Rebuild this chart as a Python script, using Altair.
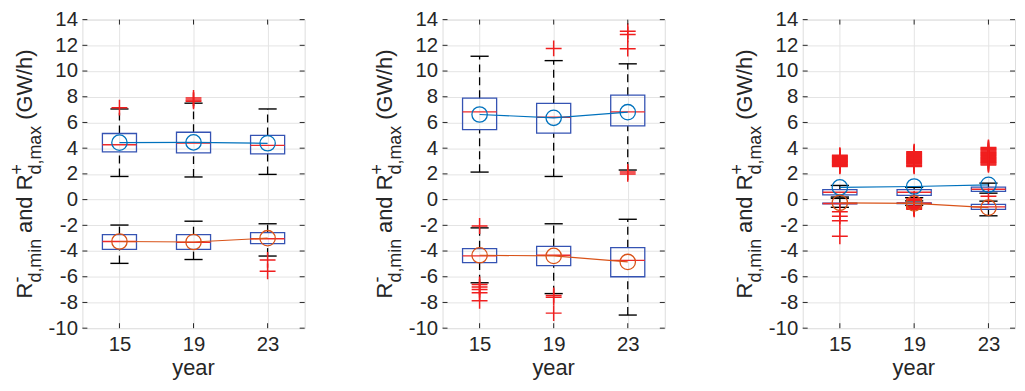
import altair as alt
import pandas as pd

YEARS = [15, 19, 23]

# Box statistics, one list per panel (left, middle, right), values for years 15, 19, 23
# upper boxes (R+_d,max)
POS_Q1 = [[3.72, 3.64, 3.56], [5.45, 5.17, 5.73], [0.36, 0.33, 0.64]]
POS_MED = [[4.27, 4.40, 4.22], [6.82, 6.41, 6.82], [0.57, 0.57, 0.80]]
POS_Q3 = [[5.14, 5.24, 5.00], [7.89, 7.48, 8.12], [0.77, 0.77, 0.97]]
POS_LO = [[1.80, 1.76, 1.96], [2.14, 1.80, 2.30], [0.20, 0.15, 0.50]]
POS_HI = [[7.05, 7.50, 7.05], [11.15, 10.81, 10.56], [1.10, 0.95, 1.28]]
POS_MEAN = [[4.43, 4.45, 4.38], [6.62, 6.36, 6.80], [0.95, 1.02, 1.15]]
POS_OUT = [
    [[7.15], [7.65, 7.75, 7.9], []],
    [[], [11.76], [2.0, 2.15, 11.74, 12.85, 13.1]],
    [
        [2.58, 2.63, 2.7, 2.74, 2.8, 2.87, 2.92, 2.98, 3.03, 3.1, 3.15, 3.22, 3.27, 3.33, 3.4, 3.45],
        [2.58, 2.64, 2.7, 2.77, 2.83, 2.9, 2.96, 3.03, 3.1, 3.16, 3.22, 3.3, 3.36, 3.43, 3.5, 3.57, 3.64, 3.72],
        [0.26, 2.7, 2.77, 2.84, 2.9, 2.97, 3.04, 3.1, 3.17, 3.24, 3.3, 3.37, 3.44, 3.5, 3.57, 3.64, 3.7,
         3.78, 3.85, 3.92, 4.0, 4.05],
    ],
]
# lower boxes (R-_d,min)
NEG_Q1 = [[-3.87, -3.87, -3.43], [-4.91, -5.14, -6.00], [-0.33, -0.32, -0.76]]
NEG_MED = [[-3.26, -3.33, -3.05], [-4.38, -4.33, -4.73], [-0.30, -0.28, -0.57]]
NEG_Q3 = [[-2.72, -2.72, -2.57], [-3.82, -3.64, -3.74], [-0.27, -0.25, -0.37]]
NEG_LO = [[-4.96, -4.66, -4.39], [-6.47, -7.31, -8.98], [-0.60, -0.45, -1.26]]
NEG_HI = [[-1.98, -1.68, -1.88], [-2.20, -1.88, -1.53], [0.10, -0.10, -0.12]]
NEG_MEAN = [[-3.26, -3.30, -3.00], [-4.33, -4.38, -4.85], [-0.25, -0.30, -0.63]]
NEG_OUT = [
    [[], [], [-4.69, -5.58]],
    [[-2.05, -6.6, -6.8, -7.0, -7.24, -7.87], [-7.45, -7.6, -8.83], []],
    [[-0.95, -1.3, -1.65, -2.85], [0.05, 0.0, -0.05, -0.5, -0.55, -0.6, -0.65, -0.7, -0.75], []],
]

Y_TICKS = list(range(-10, 15, 2))
X_DOMAINS = [[13, 25], [13, 25], [13, 24.43]]
WIDTHS = [224, 224, 214]

FONT = "Liberation Sans"
AX = "#262626"
BOX_BLUE = "#3553B3"
MED_RED = "#EE2A2A"
OUT_RED = "#F01E1E"
MEAN_BLUE = "#0072BD"
MEAN_ORANGE = "#D95319"
H = 311
BOX_HALF = 0.92
CAP_HALF = 0.49

yscale = alt.Scale(domain=[-10, 14], nice=False, zero=False)
xaxis = alt.Axis(values=YEARS, grid=True, gridColor="#E4E4E4", gridWidth=1, ticks=False, tickSize=0,
                 domain=False, labelFont=FONT, labelFontSize=20.5, labelColor=AX, labelPadding=7,
                 title=None)
yaxis = alt.Axis(values=Y_TICKS, grid=True, gridColor="#E4E4E4", gridWidth=1, ticks=False, tickSize=0,
                 domain=False, labelFont=FONT, labelFontSize=20.5, labelColor=AX, labelPadding=5,
                 labelBaseline="middle", labelExpr="'' + datum.value", title=None)


def Y(f):
    return alt.Y(f, type="quantitative", scale=yscale, axis=yaxis)


def panel(i):
    W = WIDTHS[i]
    xscale = alt.Scale(domain=X_DOMAINS[i], nice=False, zero=False)

    def X(f):
        return alt.X(f, type="quantitative", scale=xscale, axis=xaxis)

    rows = []
    outs = []
    for series, q1, med, q3, lo, hi, mean, out in [
        ("pos", POS_Q1, POS_MED, POS_Q3, POS_LO, POS_HI, POS_MEAN, POS_OUT),
        ("neg", NEG_Q1, NEG_MED, NEG_Q3, NEG_LO, NEG_HI, NEG_MEAN, NEG_OUT),
    ]:
        for j, yr in enumerate(YEARS):
            rows.append(dict(series=series, year=yr, q1=q1[i][j], med=med[i][j], q3=q3[i][j],
                             lo=lo[i][j], hi=hi[i][j], mean=mean[i][j],
                             xl=yr - BOX_HALF, xr=yr + BOX_HALF, cl=yr - CAP_HALF, cr=yr + CAP_HALF))
            for v in out[i][j]:
                outs.append(dict(series=series, year=yr, v=v))
    df = pd.DataFrame(rows)
    odf = pd.DataFrame(outs) if outs else pd.DataFrame({"series": [], "year": [], "v": []})
    base = alt.Chart(df)

    wh_up = base.mark_rule(color="black", strokeWidth=1.3, strokeDash=[8, 5]).encode(
        x=X("year"), y=Y("q3"), y2="hi")
    wh_dn = base.mark_rule(color="black", strokeWidth=1.3, strokeDash=[8, 5]).encode(
        x=X("year"), y=Y("lo"), y2="q1")
    cap_hi = base.mark_rule(color="black", strokeWidth=1.4).encode(x=X("cl"), x2="cr", y=Y("hi"))
    cap_lo = base.mark_rule(color="black", strokeWidth=1.4).encode(x=X("cl"), x2="cr", y=Y("lo"))
    box = base.mark_rect(fillOpacity=0, stroke=BOX_BLUE, strokeWidth=1.3).encode(
        x=X("xl"), x2="xr", y=Y("q1"), y2="q3")
    med = base.mark_rule(color=MED_RED, strokeWidth=1.4).encode(x=X("xl"), x2="xr", y=Y("med"))
    outl = alt.Chart(odf).mark_point(shape="M-1,0L1,0M0,-1L0,1", filled=False, color=OUT_RED,
                                     strokeWidth=1.5, size=256, opacity=1).encode(
        x=X("year"), y=Y("v"))
    cscale = alt.Scale(domain=["pos", "neg"], range=[MEAN_BLUE, MEAN_ORANGE])
    mline = base.mark_line(strokeWidth=1.2).encode(
        x=X("year"), y=Y("mean"), color=alt.Color("series:N", scale=cscale, legend=None))
    mpt = base.mark_point(shape="circle", filled=False, size=240, strokeWidth=1.3, opacity=1).encode(
        x=X("year"), y=Y("mean"), color=alt.Color("series:N", scale=cscale, legend=None))

    ytk = alt.Chart(pd.DataFrame({"t": Y_TICKS}))
    xtk = alt.Chart(pd.DataFrame({"t": YEARS}))
    tl = ytk.mark_rule(color=AX, strokeWidth=1).encode(y=Y("t"), x=alt.value(0), x2=alt.value(5))
    tr = ytk.mark_rule(color=AX, strokeWidth=1).encode(y=Y("t"), x=alt.value(W - 5), x2=alt.value(W))
    tb = xtk.mark_rule(color=AX, strokeWidth=1).encode(x=X("t"), y=alt.value(H - 5), y2=alt.value(H))
    tt = xtk.mark_rule(color=AX, strokeWidth=1).encode(x=X("t"), y=alt.value(0), y2=alt.value(5))

    def txt(s, x, y, fs, angle=270, align="left"):
        return alt.Chart(pd.DataFrame({"s": [s]})).mark_text(
            font=FONT, fontSize=fs, color=AX, angle=angle, align=align, baseline="alphabetic"
        ).encode(text="s:N", x=alt.value(x), y=alt.value(y))

    titles = [
        txt("R", -51, 281, 22),
        txt("-", -60, 265, 18),
        txt("d,min", -42, 265, 18),
        txt("and", -51, 215, 22),
        txt("R", -51, 172, 22),
        txt("+", -60, 156, 18),
        txt("d,max", -42, 156, 18),
        txt("(GW/h)", -51, 101, 22),
        txt("year", W / 2 if i < 2 else 112, H + 47, 22, angle=0, align="center"),
    ]

    return alt.layer(wh_up, wh_dn, cap_hi, cap_lo, box, med, outl, mline, mpt,
                     tl, tr, tb, tt, *titles).properties(width=W, height=H)


chart = alt.hconcat(panel(0), panel(1), panel(2), spacing=139, bounds="flush").properties(
    autosize=alt.AutoSizeParams(type="none"),
    padding={"left": 75, "top": 9, "right": 942, "bottom": 362},
).configure_view(stroke=AX, strokeWidth=2).configure(background="white")

chart.save("out.html", embed_options={"renderer": "svg", "actions": False})
